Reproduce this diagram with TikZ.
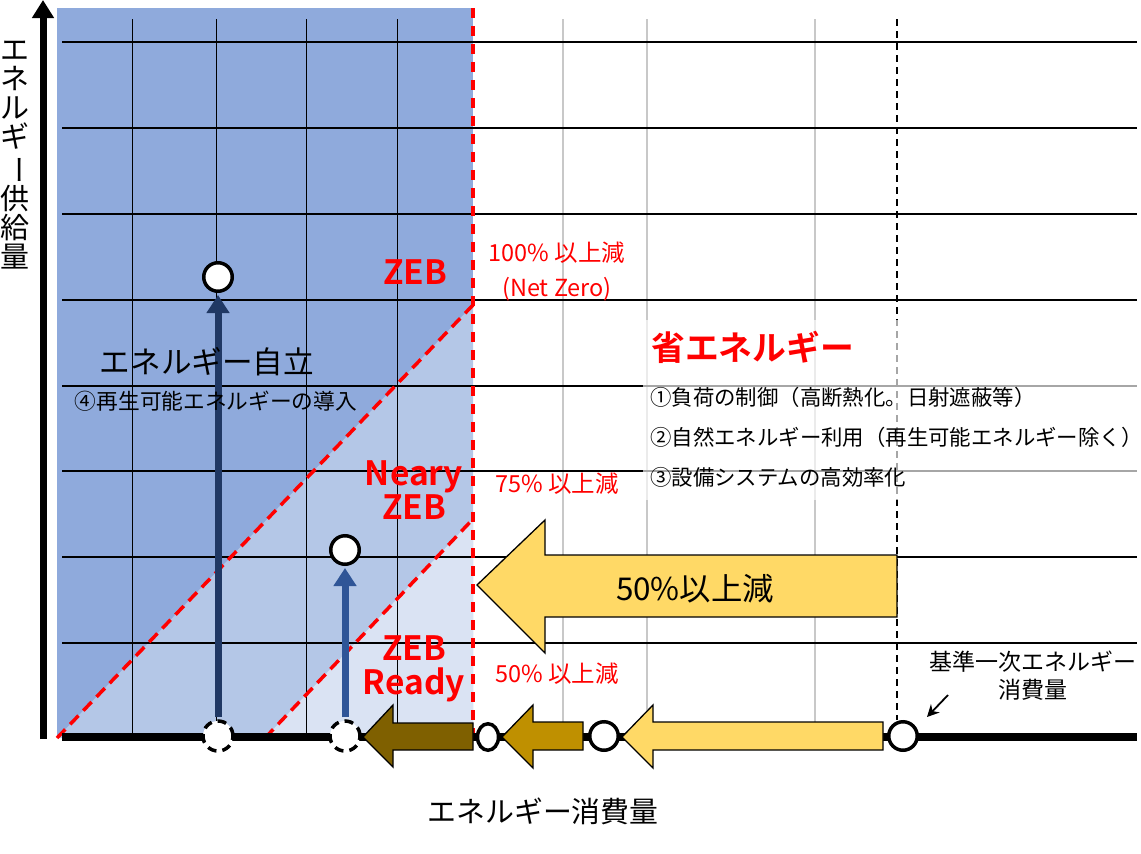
\documentclass[tikz,border=0pt]{standalone}
\usepackage{fontspec}
\setmainfont{Noto Sans CJK JP}[BoldFont={Noto Sans CJK JP Bold}]
\usetikzlibrary{arrows.meta,shapes.geometric}
\definecolor{zebdark}{HTML}{8FAADC}
\definecolor{zebmid}{HTML}{B4C7E7}
\definecolor{zeblight}{HTML}{DAE3F3}
\definecolor{zebnavy}{HTML}{203864}
\definecolor{zebblue}{HTML}{2F5597}
\definecolor{zebyel}{HTML}{FFD966}
\definecolor{zebgold}{HTML}{BF9000}
\definecolor{zebbrown}{HTML}{7F6000}
\definecolor{zebred}{RGB}{255,0,0}
\definecolor{zebgrey}{RGB}{200,200,200}
\newcommand{\zfs}[1]{\fontsize{#1}{#1}\selectfont}

\begin{document}
\begin{tikzpicture}[x=1pt, y=-1pt,
  gh/.style={black, line width=1.1pt},
  gv/.style={black, line width=0.9pt},
  gg/.style={zebgrey, line width=1.5pt},
  zdiag/.style={zebred, line width=3.5pt, dash pattern=on 12pt off 7pt},
  zlim/.style={zebred, line width=4pt, dash pattern=on 10pt off 8pt},
  zlab/.style={font=\bfseries\fontsize{33.5}{34}\selectfont, text=zebred, align=center, inner sep=0pt},
  pct/.style={font=\zfs{23.5}, text=zebred, inner sep=0pt},
  item/.style={font=\zfs{21.4}, anchor=west, inner sep=0pt},
  pt/.style={circle, draw=black, line width=3.5pt, fill=white, minimum size=28.5pt, inner sep=0pt},
  ptd/.style={pt, minimum size=30pt, dash pattern=on 9pt off 6pt},
  blk/.style={draw=black, line width=1.3pt},
  axis/.style={line width=7pt},
  up/.style={line width=7pt, -{Triangle[width=22pt, length=18pt]},
             shorten <=2pt, shorten >=2pt}]
\useasboundingbox (0,0) rectangle (1141,854);

% ZEB zones
\fill[zebdark] (57,8) rectangle (473,738);
\fill[zebmid] (57,738) -- (473,305) -- (473,738) -- cycle;
\fill[zeblight] (265,738) -- (473,519) -- (473,738) -- cycle;

% grid
\foreach \gx in {563,647,815} \draw[gg] (\gx,19) -- (\gx,735);
\foreach \gx in {132,216,306,397} \draw[gv] (\gx,19) -- (\gx,735);
\foreach \gy in {42,128,214,300,386,471,557,643} \draw[gh] (62,\gy) -- (1137,\gy);
\draw[black, line width=1.4pt, dash pattern=on 7pt off 5pt] (897,19) -- (897,720);

% boundaries
\draw[zdiag] (57,738) -- (473,305);
\draw[zdiag] (265,738) -- (473,519);
\draw[zlim] (473,8) -- (473,738);
\fill[white, opacity=0.65] (643,320) rectangle (1141,500);

% axes
\coordinate (y0) at (43,739);
\coordinate (y1) at (43,0);
\coordinate (x0) at (62,737);
\coordinate (x1) at (1137,737);
\draw[axis, -{Triangle[width=21pt, length=18pt]}] (y0) -- (y1);
\draw[line width=8pt] (x0) -- (x1);

% reduction arrows
\filldraw[blk, fill=zebyel] (897,555) -- (545,555) -- (545,520) -- (477,585)
  -- (545,653) -- (545,617) -- (897,617) -- cycle;
\filldraw[blk, fill=zebbrown] (473,723) -- (393,723) -- (393,705) -- (363,737)
  -- (393,767) -- (393,750) -- (473,750) -- cycle;
\filldraw[blk, fill=zebgold] (583,722) -- (533,722) -- (533,705) -- (502,737)
  -- (533,768) -- (533,750) -- (583,750) -- cycle;
\filldraw[blk, fill=zebyel] (883,722) -- (653,722) -- (653,705) -- (622,737)
  -- (653,768) -- (653,750) -- (883,750) -- cycle;
\node[font=\zfs{31.4}] (cut) at (695,589) {50\%以上減};

% points
\node[ptd] (d1) at (218,736) {};
\node[ptd] (d2) at (345,736) {};
\node[pt]  (z1) at (218,277) {};
\node[pt]  (z2) at (345,550) {};
\node[pt, ellipse, minimum width=21pt, minimum height=26.5pt] (p1) at (488,737) {};
\node[pt]  (p2) at (604,736) {};
\node[pt]  (p3) at (903,736) {};
\draw[up, zebnavy] (d1) -- (z1);
\draw[up, zebblue] (d2) -- (z2);

% labels
\node[zlab] (zeb)   at (415,272) {ZEB};
\node[zlab] (nzeb)  at (414,490) {Neary\\ZEB};
\node[zlab] (rzeb)  at (414,669) {ZEB\\Ready};
\node[pct]  (p100)  at (557,253) {100\% 以上減};
\node[pct]  (pnet)  at (557,289) {(Net Zero)};
\node[pct]  (p75)   at (557,484) {75\% 以上減};
\node[pct]  (p50)   at (557,674) {50\% 以上減};
\node[font=\bfseries\zfs{33.8}, text=zebred, anchor=west, inner sep=0pt] (save) at (651,347) {省エネルギー};
\node[item] (m1) at (650,397) {①負荷の制御（高断熱化。日射遮蔽等）};
\node[item] (m2) at (650,437) {②自然エネルギー利用（再生可能エネルギー除く）};
\node[item] (m3) at (650,477) {③設備システムの高効率化};
\node[font=\zfs{30.6}, inner sep=0pt] (self) at (207,362) {エネルギー自立};
\node[font=\zfs{21.7}, inner sep=0pt] (m4) at (216,401) {④再生可能エネルギーの導入};
\node[font=\fontsize{23}{28}\selectfont, align=center, inner sep=0pt] (base) at (1033,676)
  {基準一次エネルギー\\消費量};
\node[font=\zfs{28.9}, inner sep=0pt] (xlab) at (543,811) {エネルギー消費量};
\node[font=\fontsize{29}{29}\selectfont, align=center, inner sep=0pt] (ylab) at (15,155)
  {エ\\ネ\\ル\\ギ\\\rotatebox[origin=c]{-90}{ー}\\供\\給\\量};
\coordinate (b0) at (948,695);
\coordinate (b1) at (927,717);
\draw[line width=1.8pt, -{Stealth[length=12pt, width=12pt]}] (b0) -- (b1);
\end{tikzpicture}
\end{document}
